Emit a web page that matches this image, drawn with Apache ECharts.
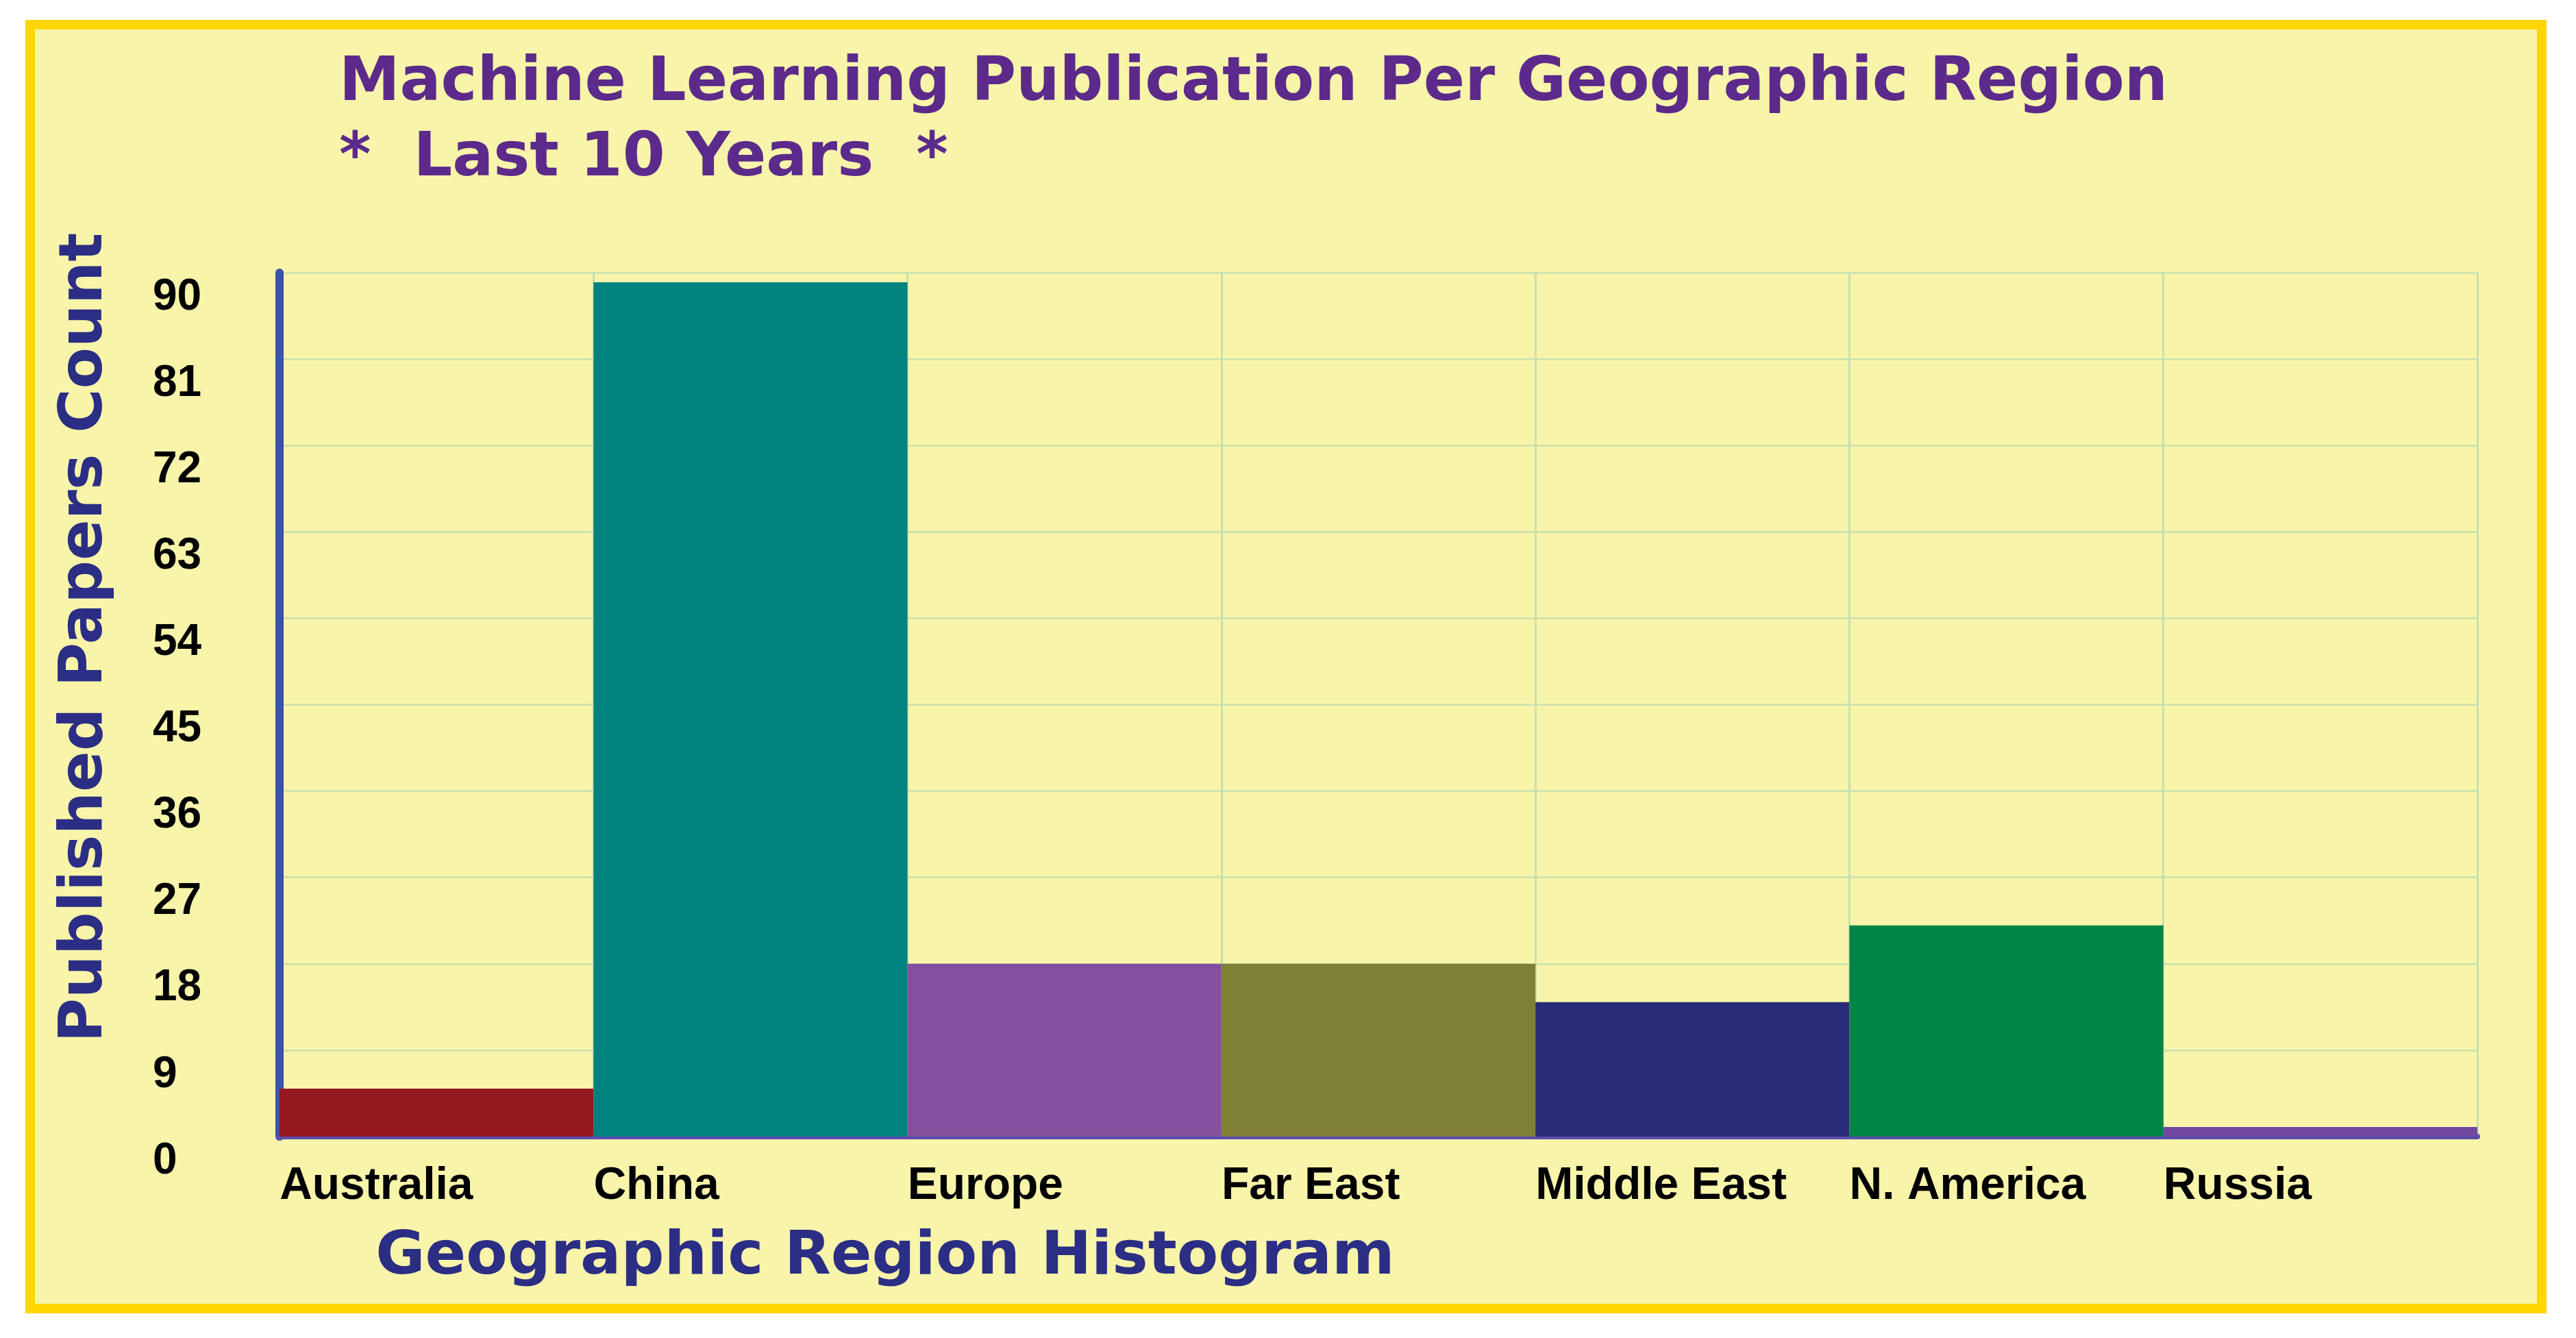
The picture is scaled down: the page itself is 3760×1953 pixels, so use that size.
<!DOCTYPE html>
<html>
<head>
    <meta charset="utf-8">
    <title>Machine Learning Publication Per Geographic Region</title>
    <script src="https://cdn.jsdelivr.net/npm/echarts@6/dist/echarts.min.js"></script>
    <style>
        html, body { margin: 0; padding: 0; background: #ffffff; }
        #frame {
            position: absolute; left: 37px; top: 29px; width: 3680px; height: 1888px;
            box-sizing: border-box; border: 14px solid #FFD600; background: #F8F5AA;
        }
        #chart { position: absolute; left: 0; top: 0; width: 3760px; height: 1953px; }
    </style>
</head>
<body>
    <div id="frame"></div>
    <div id="chart"></div>

    <script type="text/javascript">
        var regions = ['Australia', 'China', 'Europe', 'Far East', 'Middle East', 'N. America', 'Russia'];
        var paperCounts = [5, 89, 18, 18, 14, 22, 1];
        var yMax = 90;
        var yStep = 9;

        var barColors = ['#951A1F', '#00827F', '#844F9F', '#7E8035', '#292B76', '#018545', '#7048A2'];

        var chart = echarts.init(document.getElementById('chart'));

        option = {
            animation: false,
            title: {
                text: 'Machine Learning Publication Per Geographic Region\n*  Last 10 Years  *',
                left: 490,
                top: 63,
                textStyle: {
                    fontFamily: 'DejaVu Sans',
                    fontWeight: 'bold',
                    fontSize: 89,
                    lineHeight: 110,
                    color: '#5C2A8A'
                }
            },
            grid: {
                left: 408,
                top: 398,
                right: 144,
                bottom: 294
            },
            xAxis: {
                type: 'category',
                data: regions,
                name: 'Geographic Region Histogram',
                nameLocation: 'middle',
                nameGap: 127,
                nameTextStyle: {
                    fontFamily: 'DejaVu Sans',
                    fontWeight: 'bold',
                    fontSize: 88,
                    lineHeight: 100,
                    color: '#2B2E84',
                    padding: [0, 1440, 0, 0]
                },
                axisLine: { lineStyle: { color: '#5A4CB0', width: 8 } },
                axisTick: { show: false },
                axisLabel: {
                    interval: 0,
                    margin: 37,
                    // left-align each label at its bar's left edge
                    formatter: function (v) { return '{a|' + v + '}'; },
                    rich: {
                        a: {
                            width: 458,
                            align: 'left',
                            fontFamily: 'Liberation Sans',
                            fontWeight: 'bold',
                            fontSize: 66,
                            lineHeight: 72,
                            color: '#000000'
                        }
                    }
                },
                splitLine: {
                    show: true,
                    interval: 0,
                    lineStyle: { color: '#C6E0AE', width: 3 }
                }
            },
            yAxis: {
                type: 'value',
                min: 0,
                max: yMax,
                interval: yStep,
                name: 'Published Papers Count',
                nameLocation: 'middle',
                nameRotate: 90,
                nameGap: 233,
                nameTextStyle: {
                    fontFamily: 'DejaVu Sans',
                    fontWeight: 'bold',
                    fontSize: 88,
                    lineHeight: 100,
                    color: '#2B2E84',
                    padding: [0, 0, 0, 196]
                },
                axisLine: { show: true, lineStyle: { color: '#3D52A8', width: 12 } },
                axisTick: { show: false },
                axisLabel: {
                    align: 'left',
                    verticalAlign: 'top',
                    lineHeight: 72,
                    margin: 185,
                    fontFamily: 'Liberation Sans',
                    fontWeight: 'bold',
                    fontSize: 64,
                    color: '#000000'
                },
                splitLine: { lineStyle: { color: '#CFE3AE', width: 3 } }
            },
            series: [{
                type: 'bar',
                data: paperCounts,
                barCategoryGap: '0%',
                itemStyle: {
                    color: function (params) {
                        return barColors[params.dataIndex % barColors.length];
                    }
                }
            }]
        };

        chart.setOption(option);
    </script>
</body>
</html>
